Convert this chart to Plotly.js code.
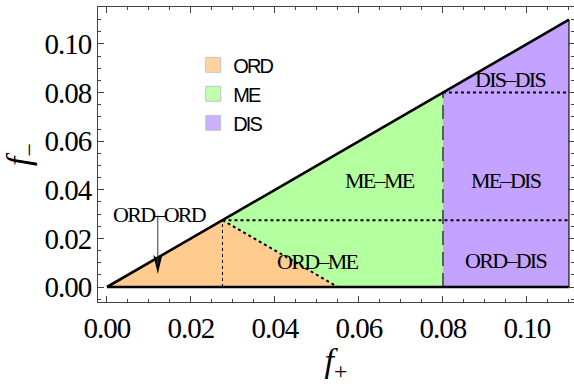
<!DOCTYPE html>
<html>
<head>
<meta charset="utf-8">
<script src="https://cdn.plot.ly/plotly-3.0.1.min.js"></script>
<style>
  html, body { margin: 0; padding: 0; background: #fff; }
  #chart { width: 574px; height: 384px; }
  .xtick text, .ytick text { letter-spacing: -1px; }
  .annotation-text { letter-spacing: -1.7px; }
  .legendtext { letter-spacing: -1.8px; }
</style>
</head>
<body>
<div id="chart"></div>
<script>
// Phase regions in the (f+, f-) plane
const ordX = [0, 0.0275, 0.055];
const ordY = [0, 0.0275, 0];
const meX = [0.0275, 0.055, 0.08, 0.08];
const meY = [0.0275, 0, 0, 0.08];
const disX = [0.08, 0.11, 0.11, 0.08];
const disY = [0, 0, 0.11, 0.08];

// Boundary lines
const diagX = [0, 0.11];
const diagY = [0, 0.11];
const baseX = [0, 0.11];
const baseY = [0, 0];
const rightX = [0.11, 0.11];
const rightY = [0, 0.11];
const ordMeX = [0.0275, 0.055];
const ordMeY = [0.0275, 0];
const lowSplitX = [0.0275, 0.11];
const lowSplitY = [0.0275, 0.0275];
const highSplitX = [0.08, 0.11];
const highSplitY = [0.08, 0.08];
const ordVertX = [0.0275, 0.0275];
const ordVertY = [0, 0.0275];
const disEdgeX = [0.08, 0.08];
const disEdgeY = [0, 0.08];

// Region labels
const labelText = ['ME–ME', 'ME–DIS', 'DIS–DIS', 'ORD–DIS', 'ORD–ME'];
const labelX = [0.065, 0.095, 0.096, 0.095, 0.0502];
const labelY = [0.044, 0.044, 0.0852, 0.0111, 0.0103];

// ORD–ORD label with a pointer into the small triangle
const ordOrdText = 'ORD–ORD';
const ordOrdLabel = [0.0126, 0.0300];
const ordOrdTip = [0.0121, 0.0054];

const legendNames = ['ORD', 'ME', 'DIS'];
const colORD = '#FFCB8E';
const colME = '#B4FF9F';
const colDIS = '#C4A2FF';
const regionColors = [colORD, colME, colDIS];

const traces = [];
function region(x, y, c) {
  traces.push({x: x, y: y, type: 'scatter', mode: 'lines', fill: 'toself',
    fillcolor: c, line: {width: 0, color: c}, showlegend: false, hoverinfo: 'skip'});
}
region(ordX, ordY, colORD);
region(meX, meY, colME);
region(disX, disY, colDIS);

function seg(x, y, w, dash, color) {
  traces.push({x: x, y: y, type: 'scatter', mode: 'lines',
    line: {width: w, dash: dash, color: color || '#000'}, showlegend: false, hoverinfo: 'skip'});
}
seg(ordVertX, ordVertY, 1, 'dot');
seg(ordMeX, ordMeY, 2, 'dot');
seg(lowSplitX, lowSplitY, 2, 'dot');
seg(highSplitX, highSplitY, 2, 'dot');
seg(disEdgeX, disEdgeY, 1.3, '14px,7px', '#222');
seg(rightX, rightY, 1.3, 'solid', '#222');
seg(baseX, baseY, 2.6, 'solid');
seg(diagX, diagY, 2.6, 'solid');

// Legend entries
legendNames.forEach((n, i) => {
  traces.push({x: [null], y: [null], type: 'scatter', mode: 'markers', name: n,
    marker: {symbol: 'square', size: 15, color: regionColors[i], opacity: 0.85,
      line: {color: '#bbb', width: 1}}});
});

const labelFont = {family: 'Liberation Serif', size: 22, color: '#000'};
const annotations = labelText.map((t, i) => ({
  x: labelX[i], y: labelY[i], xref: 'x', yref: 'y', text: t, showarrow: false,
  font: labelFont
}));
// pointer shaft, from the label centre down to the head
annotations.push({
  x: ordOrdTip[0], y: ordOrdTip[1], xref: 'x', yref: 'y',
  ax: ordOrdLabel[0] - 0.0005, ay: ordOrdLabel[1], axref: 'x', ayref: 'y',
  text: '', showarrow: true, arrowhead: 0, arrowwidth: 1, arrowcolor: '#333',
  standoff: 10, startstandoff: 0
});
annotations.push({
  x: ordOrdLabel[0], y: ordOrdLabel[1], xref: 'x', yref: 'y',
  text: ordOrdText, showarrow: false, font: labelFont
});

// narrow filled arrow head, tip anchored at the pointed location
const shapes = [{
  type: 'path', xref: 'x', yref: 'y',
  xsizemode: 'pixel', ysizemode: 'pixel',
  xanchor: ordOrdTip[0], yanchor: ordOrdTip[1],
  path: 'M0,0 L-4.5,19 L0,15 L4.5,19 Z',
  fillcolor: '#000', line: {width: 0}
}];

const tickFont = {family: 'Liberation Serif', size: 29, color: '#000'};
const layout = {
  width: 574, height: 384,
  margin: {l: 98, r: 0, t: 7, b: 82},
  paper_bgcolor: '#fff', plot_bgcolor: '#fff',
  showlegend: true,
  legend: {x: 0.2, y: 0.87, xanchor: 'left', yanchor: 'top',
    bgcolor: 'rgba(0,0,0,0)', borderwidth: 0,
    font: {family: 'Liberation Sans', size: 20, color: '#000'}, tracegroupgap: 0},
  xaxis: {
    range: [-0.00214, 0.1112], showgrid: false, zeroline: false,
    tickmode: 'linear', tick0: 0, dtick: 0.02, tickformat: '.2f',
    ticks: 'inside', ticklen: 6, tickwidth: 1, tickcolor: '#444',
    minor: {dtick: 0.005, ticklen: 3, tickcolor: '#444', ticks: 'inside'},
    showline: true, linecolor: '#444', linewidth: 1, mirror: 'ticks',
    tickfont: tickFont,
    title: {text: '<i>f</i><sub>+</sub>', font: {family: 'Liberation Serif', size: 34, color: '#000'}, standoff: 12}
  },
  yaxis: {
    range: [-0.00617, 0.1152], showgrid: false, zeroline: false,
    tickmode: 'linear', tick0: 0, dtick: 0.02, tickformat: '.2f',
    ticks: 'inside', ticklen: 6, tickwidth: 1, tickcolor: '#444',
    minor: {dtick: 0.005, ticklen: 3, tickcolor: '#444', ticks: 'inside'},
    showline: true, linecolor: '#444', linewidth: 1, mirror: 'ticks',
    tickfont: tickFont,
    title: {text: '<i>f</i><sub>−</sub>', font: {family: 'Liberation Serif', size: 34, color: '#000'}, standoff: 10}
  },
  annotations: annotations,
  shapes: shapes
};

Plotly.newPlot('chart', traces, layout, {displayModeBar: false, staticPlot: true});
</script>
</body>
</html>
